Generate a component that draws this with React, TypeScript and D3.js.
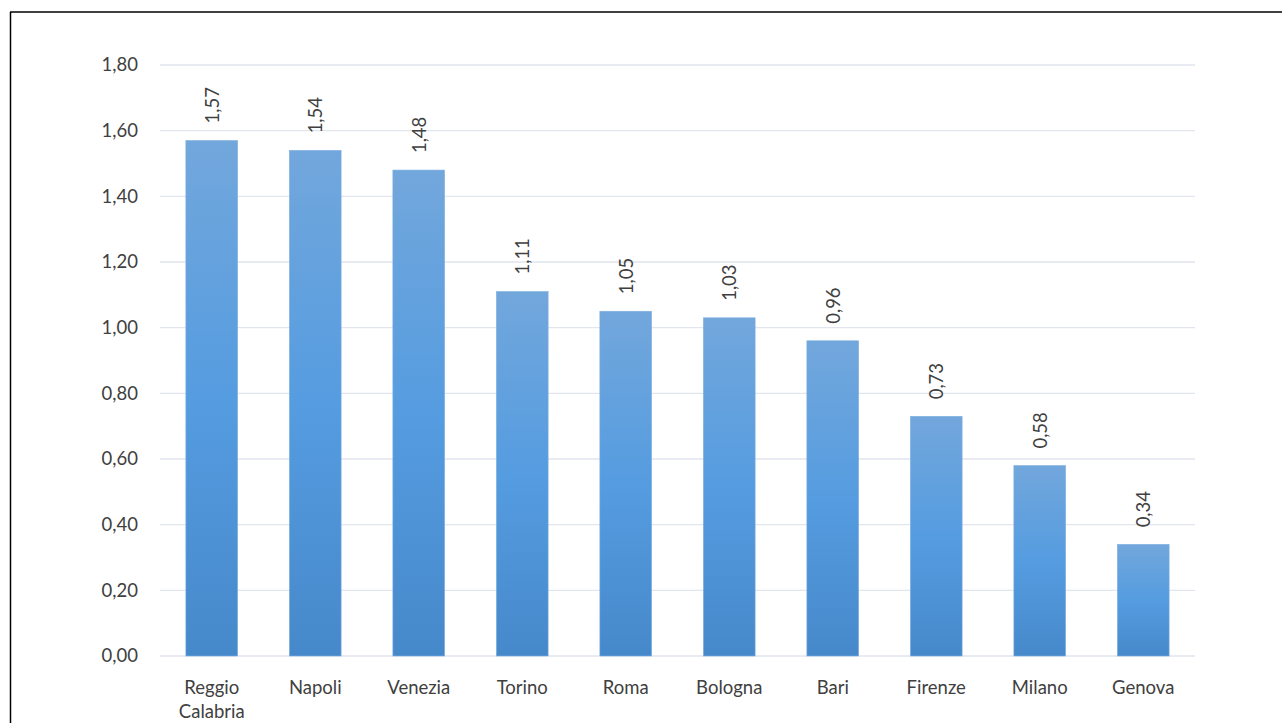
import React from "react";
import * as d3 from "d3";

const categories = ["Reggio Calabria", "Napoli", "Venezia", "Torino", "Roma", "Bologna", "Bari", "Firenze", "Milano", "Genova"];
const values = [1.57, 1.54, 1.48, 1.11, 1.05, 1.03, 0.96, 0.73, 0.58, 0.34];
const yTicks = [0, 0.2, 0.4, 0.6, 0.8, 1.0, 1.2, 1.4, 1.6, 1.8];

const W = 1282;
const H = 723;
const M = { left: 160, right: 1195, top: 65, bottom: 656 };
const FONT = "Lato, 'Open Sans', sans-serif";
const FS = 18.5;
const fmt = (v: number, d = 2) => v.toFixed(d).replace(".", ",");

export default function App() {
  const x = d3.scaleBand<string>().domain(categories).range([M.left, M.right]).paddingInner(0.5).paddingOuter(0.25);
  const y = d3.scaleLinear().domain([0, 1.8]).range([M.bottom, M.top]);
  return (
    <svg width={W} height={H} style={{ position: "absolute", left: 0, top: 0, background: "#fff" }}>
      <defs>
        <linearGradient id="barGrad" x1="0" y1="0" x2="0" y2="1">
          <stop offset="0%" stopColor="#72a7dc" />
          <stop offset="50%" stopColor="#559ce0" />
          <stop offset="100%" stopColor="#4689cb" />
        </linearGradient>
      </defs>
      <rect x={0} y={0} width={W} height={H} fill="#fff" />
      <line x1={10} y1={12} x2={W} y2={12} stroke="#000" strokeWidth={1.5} />
      <line x1={10.5} y1={12} x2={10.5} y2={H} stroke="#000" strokeWidth={1.5} />
      {yTicks.map((t) => (
        <g key={t}>
          <line x1={M.left} x2={M.right} y1={y(t)} y2={y(t)} stroke="#e1e6ee" strokeWidth={1.3} />
          <text x={138} y={y(t)} dy="0.35em" textAnchor="end" fontFamily={FONT} fontSize={FS} fill="#404040">
            {fmt(t)}
          </text>
        </g>
      ))}
      {categories.map((c, i) => {
        const bx = x(c)!;
        const bw = x.bandwidth();
        const cx = bx + bw / 2;
        const top = y(values[i]);
        const words = c.split(" ");
        return (
          <g key={c}>
            <rect x={bx} y={top} width={bw} height={M.bottom - top} fill="url(#barGrad)" stroke="#7fb0e0" strokeWidth={0.6} />
            <text
              transform={`translate(${cx},${top - 17}) rotate(-90)`}
              textAnchor="start"
              dominantBaseline="central"
              fontFamily={FONT}
              fontSize={FS}
              fill="#404040"
            >
              {fmt(values[i])}
            </text>
            {words.map((w, k) => (
              <text key={w} x={cx} y={694 + k * 24} textAnchor="middle" fontFamily={FONT} fontSize={FS} fill="#404040">
                {w}
              </text>
            ))}
          </g>
        );
      })}
    </svg>
  );
}
